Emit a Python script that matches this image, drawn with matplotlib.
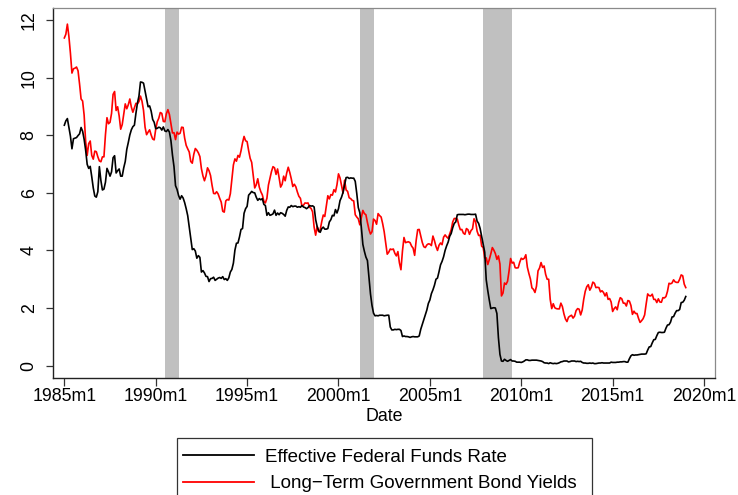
import numpy as np
import matplotlib
matplotlib.use("Agg")
import matplotlib.pyplot as plt
from matplotlib.lines import Line2D
from matplotlib.patches import Rectangle

plt.rcParams['font.family'] = ['Liberation Sans', 'DejaVu Sans']

start_year = 1985
# Effective Federal Funds Rate, monthly 1985m1 - 2019m1
effr = [
    8.35, 8.50, 8.58, 8.27, 7.97, 7.53, 7.88, 7.90, 7.92, 7.99, 8.05, 8.27,
    8.14, 7.86, 7.48, 6.99, 6.85, 6.92, 6.56, 6.17, 5.89, 5.85, 6.04, 6.91,
    6.43, 6.10, 6.13, 6.37, 6.85, 6.73, 6.58, 6.73, 7.22, 7.29, 6.69, 6.77,
    6.83, 6.58, 6.58, 6.87, 7.09, 7.51, 7.75, 8.01, 8.19, 8.30, 8.35, 8.76,
    9.12, 9.36, 9.85, 9.84, 9.81, 9.53, 9.24, 8.99, 9.02, 8.84, 8.55, 8.45,
    8.23, 8.24, 8.28, 8.26, 8.18, 8.29, 8.15, 8.13, 8.20, 8.11, 7.81, 7.31,
    6.91, 6.25, 6.12, 5.91, 5.78, 5.90, 5.82, 5.66, 5.45, 5.21, 4.81, 4.43,
    4.03, 4.06, 3.98, 3.73, 3.82, 3.76, 3.25, 3.30, 3.22, 3.10, 3.09, 2.92,
    3.02, 3.03, 3.07, 2.96, 3.00, 3.04, 3.06, 3.03, 3.09, 2.99, 3.02, 2.96,
    3.05, 3.25, 3.34, 3.56, 4.01, 4.25, 4.26, 4.47, 4.73, 4.76, 5.29, 5.45,
    5.53, 5.92, 5.98, 6.05, 6.01, 6.00, 5.85, 5.74, 5.80, 5.76, 5.80, 5.60,
    5.56, 5.22, 5.31, 5.22, 5.24, 5.27, 5.40, 5.22, 5.30, 5.24, 5.31, 5.29,
    5.25, 5.19, 5.39, 5.51, 5.50, 5.56, 5.52, 5.54, 5.54, 5.50, 5.52, 5.50,
    5.56, 5.51, 5.49, 5.45, 5.49, 5.56, 5.54, 5.55, 5.51, 5.07, 4.83, 4.68,
    4.63, 4.76, 4.81, 4.74, 4.74, 4.76, 4.99, 5.07, 5.22, 5.20, 5.42, 5.30,
    5.45, 5.73, 5.85, 6.02, 6.27, 6.53, 6.54, 6.50, 6.52, 6.51, 6.51, 6.40,
    5.98, 5.49, 5.31, 4.80, 4.21, 3.97, 3.77, 3.65, 3.07, 2.49, 2.09, 1.82,
    1.73, 1.74, 1.73, 1.75, 1.75, 1.75, 1.73, 1.74, 1.75, 1.75, 1.34, 1.24,
    1.24, 1.26, 1.25, 1.26, 1.26, 1.22, 1.01, 1.03, 1.01, 1.01, 1.00, 0.98,
    1.00, 1.01, 1.00, 1.00, 1.00, 1.03, 1.26, 1.43, 1.61, 1.76, 1.93, 2.16,
    2.28, 2.50, 2.63, 2.79, 3.00, 3.04, 3.26, 3.50, 3.62, 3.78, 4.00, 4.16,
    4.29, 4.49, 4.59, 4.79, 4.94, 4.99, 5.24, 5.25, 5.25, 5.25, 5.25, 5.24,
    5.25, 5.26, 5.26, 5.25, 5.25, 5.25, 5.26, 5.02, 4.94, 4.76, 4.49, 4.24,
    3.94, 2.98, 2.61, 2.28, 1.98, 2.00, 2.01, 2.00, 1.81, 0.97, 0.39, 0.16,
    0.15, 0.22, 0.18, 0.15, 0.18, 0.21, 0.16, 0.16, 0.15, 0.12, 0.12, 0.12,
    0.11, 0.13, 0.16, 0.20, 0.20, 0.18, 0.18, 0.19, 0.19, 0.19, 0.19, 0.18,
    0.17, 0.16, 0.14, 0.10, 0.09, 0.09, 0.07, 0.10, 0.08, 0.07, 0.08, 0.07,
    0.08, 0.10, 0.13, 0.14, 0.16, 0.16, 0.16, 0.13, 0.14, 0.16, 0.16, 0.16,
    0.14, 0.15, 0.14, 0.15, 0.11, 0.09, 0.09, 0.08, 0.08, 0.09, 0.08, 0.09,
    0.07, 0.07, 0.08, 0.09, 0.09, 0.10, 0.09, 0.09, 0.09, 0.09, 0.09, 0.12,
    0.11, 0.11, 0.11, 0.12, 0.12, 0.13, 0.13, 0.14, 0.14, 0.12, 0.12, 0.24,
    0.34, 0.38, 0.36, 0.37, 0.37, 0.38, 0.39, 0.40, 0.40, 0.40, 0.41, 0.54,
    0.65, 0.66, 0.79, 0.90, 0.91, 1.04, 1.15, 1.16, 1.15, 1.15, 1.16, 1.30,
    1.41, 1.42, 1.51, 1.69, 1.70, 1.82, 1.91, 1.91, 1.95, 2.19, 2.20, 2.27,
    2.40,
]

# Long-term government bond yields (10-year), monthly 1985m1 - 2019m1
bond = [
    11.38, 11.51, 11.86, 11.43, 10.85, 10.16, 10.31, 10.33, 10.37, 10.24, 9.78, 9.26,
    9.19, 8.70, 7.78, 7.30, 7.71, 7.80, 7.30, 7.17, 7.45, 7.43, 7.25, 7.11,
    7.08, 7.25, 7.25, 8.02, 8.61, 8.40, 8.45, 8.76, 9.42, 9.52, 8.86, 8.99,
    8.67, 8.21, 8.37, 8.72, 9.09, 8.92, 9.06, 9.26, 8.98, 8.80, 8.96, 9.11,
    9.09, 9.17, 9.36, 9.18, 8.86, 8.28, 8.02, 8.11, 8.19, 8.01, 7.87, 7.84,
    8.21, 8.47, 8.59, 8.79, 8.76, 8.48, 8.47, 8.75, 8.89, 8.72, 8.39, 8.08,
    8.09, 7.85, 8.11, 8.04, 8.07, 8.28, 8.27, 7.90, 7.65, 7.53, 7.42, 7.09,
    7.03, 7.34, 7.54, 7.48, 7.39, 7.26, 6.84, 6.59, 6.42, 6.59, 6.87, 6.77,
    6.60, 6.26, 5.98, 5.97, 6.04, 5.96, 5.81, 5.68, 5.36, 5.33, 5.72, 5.77,
    5.75, 5.97, 6.48, 6.97, 7.18, 7.10, 7.30, 7.24, 7.46, 7.74, 7.96, 7.81,
    7.78, 7.47, 7.20, 7.06, 6.63, 6.17, 6.28, 6.49, 6.20, 6.04, 5.93, 5.71,
    5.65, 5.81, 6.27, 6.51, 6.74, 6.91, 6.87, 6.64, 6.83, 6.53, 6.20, 6.30,
    6.58, 6.42, 6.69, 6.89, 6.71, 6.49, 6.22, 6.30, 6.21, 6.03, 5.88, 5.81,
    5.54, 5.57, 5.65, 5.64, 5.65, 5.50, 5.46, 5.34, 4.81, 4.53, 4.83, 4.65,
    4.72, 5.00, 5.23, 5.18, 5.54, 5.90, 5.79, 5.94, 5.92, 6.11, 6.03, 6.28,
    6.66, 6.52, 6.26, 5.99, 6.44, 6.10, 6.05, 5.83, 5.80, 5.74, 5.72, 5.24,
    5.16, 5.10, 4.89, 5.14, 5.39, 5.28, 5.24, 4.97, 4.73, 4.57, 4.65, 5.09,
    5.04, 4.91, 5.28, 5.21, 5.16, 4.93, 4.65, 4.26, 3.87, 3.94, 4.05, 4.03,
    4.05, 3.90, 3.81, 3.96, 3.57, 3.33, 3.98, 4.45, 4.27, 4.29, 4.30, 4.27,
    4.15, 4.08, 3.83, 4.35, 4.72, 4.73, 4.50, 4.28, 4.13, 4.10, 4.19, 4.23,
    4.22, 4.17, 4.50, 4.34, 4.14, 4.00, 4.18, 4.26, 4.20, 4.46, 4.54, 4.47,
    4.42, 4.57, 4.72, 4.99, 5.11, 5.11, 5.09, 4.88, 4.72, 4.73, 4.60, 4.56,
    4.76, 4.72, 4.56, 4.69, 4.75, 5.10, 5.00, 4.67, 4.52, 4.53, 4.15, 4.10,
    3.74, 3.74, 3.51, 3.68, 3.88, 4.10, 4.01, 3.89, 3.69, 3.81, 3.53, 2.42,
    2.52, 2.87, 2.82, 2.93, 3.29, 3.72, 3.56, 3.59, 3.40, 3.39, 3.40, 3.59,
    3.73, 3.69, 3.73, 3.85, 3.42, 3.20, 3.01, 2.70, 2.65, 2.54, 2.76, 3.29,
    3.39, 3.58, 3.41, 3.46, 3.17, 3.00, 3.00, 2.30, 1.98, 2.15, 2.01, 1.98,
    1.97, 1.97, 2.17, 2.05, 1.80, 1.62, 1.53, 1.68, 1.72, 1.75, 1.65, 1.72,
    1.91, 1.98, 1.96, 1.76, 1.93, 2.30, 2.58, 2.74, 2.81, 2.62, 2.72, 2.90,
    2.86, 2.71, 2.72, 2.71, 2.56, 2.60, 2.54, 2.42, 2.53, 2.30, 2.33, 2.21,
    1.88, 1.98, 2.04, 1.94, 2.20, 2.36, 2.32, 2.17, 2.17, 2.07, 2.26, 2.24,
    2.09, 1.78, 1.89, 1.81, 1.81, 1.64, 1.50, 1.56, 1.63, 1.76, 2.14, 2.49,
    2.43, 2.42, 2.48, 2.30, 2.30, 2.19, 2.32, 2.21, 2.20, 2.36, 2.35, 2.40,
    2.58, 2.86, 2.84, 2.87, 2.98, 2.91, 2.89, 2.89, 3.00, 3.15, 3.12, 2.83,
    2.71,
]

# NBER recessions: (start year, start month, end year, end month)
recessions = [(1990, 7, 1991, 3), (2001, 3, 2001, 11), (2007, 12, 2009, 6)]

xtick_years = [1985, 1990, 1995, 2000, 2005, 2010, 2015, 2020]
xtick_labels = [f"{y}m1" for y in xtick_years]
ytick_vals = [0, 2, 4, 6, 8, 10, 12]

labels = ["Effective Federal Funds Rate", " Long\u2212Term Government Bond Yields"]

W, H = 738, 495
fig = plt.figure(figsize=(W / 100, H / 100), dpi=100)
ax = fig.add_axes([53 / W, 1 - 378 / H, (715 - 53) / W, (378 - 8) / H])

t = start_year + np.arange(len(effr)) / 12.0
t2 = start_year + np.arange(len(bond)) / 12.0

for (sy, sm, ey, em) in recessions:
    ax.axvspan(sy + (sm - 1) / 12.0, ey + em / 12.0, color="#c0c0c0", lw=0, zorder=1)

ax.plot(t, effr, color="black", lw=1.2, zorder=3)
ax.plot(t2, bond, color="#ff0000", lw=1.2, zorder=2)

ax.set_xlim(1984.38, 2020.60)
ax.set_ylim(-0.43, 12.42)
ax.set_xticks(xtick_years)
ax.set_xticklabels(xtick_labels)
ax.set_yticks(ytick_vals)
ax.set_yticklabels([str(v) for v in ytick_vals], rotation=90, va="center")
ax.tick_params(axis="x", labelsize=12.8, length=6, width=0.9, pad=1.5, color="#333333")
ax.tick_params(axis="y", labelsize=12.8, length=5, width=0.9, pad=6, color="#333333")
ax.set_xlabel("Date", fontsize=12.8, labelpad=2)

for s in ["left", "bottom"]:
    ax.spines[s].set_color("#222222")
    ax.spines[s].set_linewidth(1.0)
for s in ["top", "right"]:
    ax.spines[s].set_color("#8a8a8a")
    ax.spines[s].set_linewidth(0.9)

# Legend (drawn in figure pixel coordinates)
def fx(px):
    return px / W

def fy(py):
    return 1 - py / H

fig.add_artist(Rectangle((fx(176.7), fy(498)), fx(591.7) - fx(176.7), fy(438) - fy(498),
                         transform=fig.transFigure, fill=False, ec="#333333", lw=0.9))
fig.add_artist(Line2D([fx(183), fx(254)], [fy(455), fy(455)], transform=fig.transFigure,
                      color="black", lw=1.3))
fig.add_artist(Line2D([fx(183), fx(254)], [fy(481.5), fy(481.5)], transform=fig.transFigure,
                      color="#ff0000", lw=1.3))
fig.text(fx(265), fy(461.7), labels[0], fontsize=13.5, va="baseline", ha="left")
fig.text(fx(265), fy(487.7), labels[1], fontsize=13.5, va="baseline", ha="left")

fig.savefig("out.png", dpi=100)
